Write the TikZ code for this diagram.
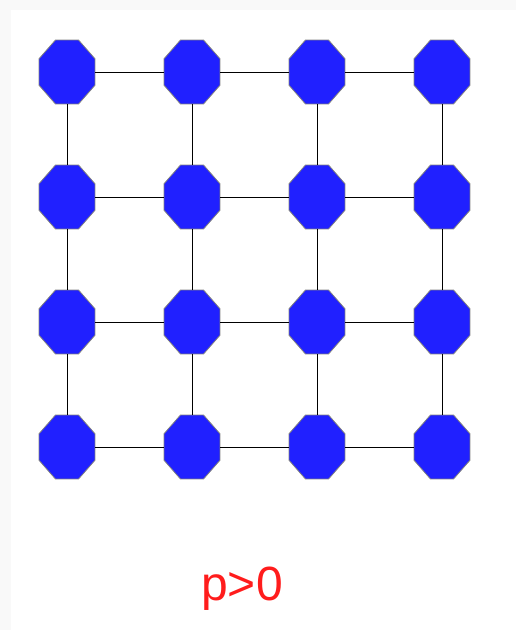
\documentclass[tikz,border=0pt]{standalone}
\usepackage{fontspec}
\setmainfont{Liberation Sans}
\usetikzlibrary{shapes.geometric}
\definecolor{siteblue}{HTML}{2020FF}
\definecolor{siteedge}{HTML}{808080}
\definecolor{labelred}{HTML}{FF1C1C}
\definecolor{framegray}{HTML}{F9F9F9}

\tikzset{
  site/.style={regular polygon, regular polygon sides=8,
    minimum size=60.6pt, inner sep=0pt, yscale=1.14, transform shape,
    fill=siteblue, draw=siteedge, line width=0.8pt},
  bond/.style={black, line width=0.9pt}
}

\begin{document}
\begin{tikzpicture}[x=1pt,y=-1pt]
  \useasboundingbox (0,0) rectangle (516,630);
  % faint screenshot frame
  \fill[framegray] (0,0) rectangle (516,10);
  \fill[framegray] (0,0) rectangle (11,630);
  % lattice sites
  \foreach \i in {0,...,3} {
    \foreach \j in {0,...,3} {
      \node[site] (s-\i-\j) at (67+125*\i, 72+125*\j) {};
    }
  }
  % bonds
  \foreach \i in {0,...,3} {
    \foreach \j [count=\k] in {0,1,2} {
      \draw[bond] (s-\j-\i) -- (s-\k-\i);
      \draw[bond] (s-\i-\j) -- (s-\i-\k);
    }
  }
  % label
  \node[labelred, font=\fontsize{48}{56}\selectfont, anchor=base] (plabel) at (242,600) {p>0};
\end{tikzpicture}
\end{document}
